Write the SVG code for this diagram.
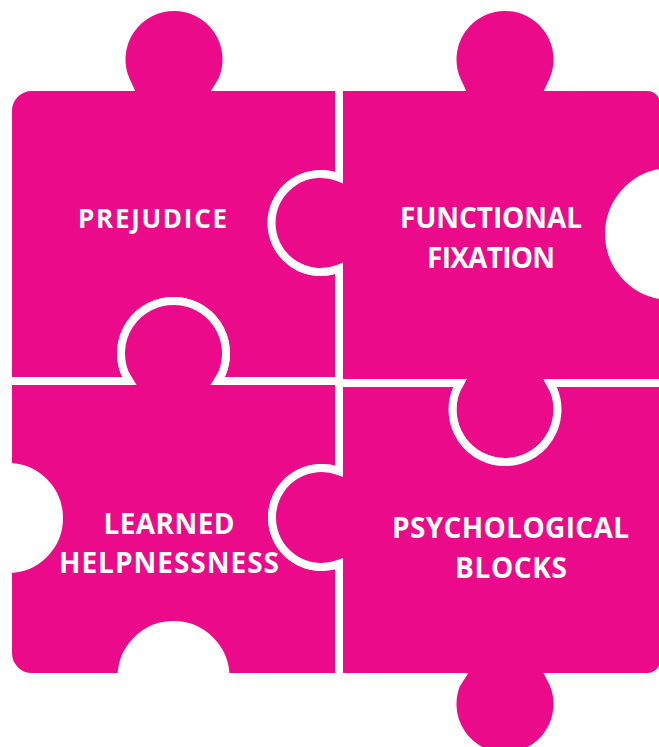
<svg xmlns="http://www.w3.org/2000/svg" width="659" height="747" viewBox="0 0 659 747">
  <style>
    .piece { fill: #EB0B8A; stroke: #FFFFFF; stroke-width: 8; stroke-linejoin: miter; }
    .label { fill: #FFFFFF; font-family: "Open Sans", "Liberation Sans", sans-serif; font-weight: 700; text-anchor: middle; }
  </style>
  <rect x="0" y="0" width="659" height="747" fill="#FFFFFF"/>

  <!-- Top-left piece -->
  <g id="prejudice">
    <path class="piece" d="M 8 111 A 24 24 0 0 1 32 87 L 129 87 L 125.5 79.5 A 52.5 52.5 0 1 1 222.5 79.5 L 218 87 L 339 87 L 339 177.6 A 49 49 0 1 0 339 268.4 L 339 381 L 217.5 381 L 222 373.5 A 52.5 52.5 0 1 0 125 373.5 L 129.5 381 L 8 381 Z"/>
    <text class="label" x="152.5" y="228" font-size="26" textLength="149" lengthAdjust="spacing">PREJUDICE</text>
  </g>

  <!-- Top-right piece -->
  <g id="functional-fixation">
    <path class="piece" d="M 339 87 L 460 87 L 456.5 79.5 A 52.5 52.5 0 1 1 553.5 79.5 L 550 87 L 647.5 87 A 16.5 16.5 0 0 1 664 103.5 L 664 172.4 A 62 62 0 0 0 664 295.6 L 664 383 L 550 383 L 553.5 389.5 A 52.5 52.5 0 1 1 456.5 389.5 L 460 383 L 339 383 L 339 268.4 A 49 49 0 1 1 339 177.6 Z"/>
    <text class="label" x="491" y="228" font-size="28" textLength="182" lengthAdjust="spacing">FUNCTIONAL</text>
    <text class="label" x="491" y="268" font-size="28" textLength="128" lengthAdjust="spacing">FIXATION</text>
  </g>

  <!-- Bottom-left piece -->
  <g id="learned-helplessness">
    <path class="piece" d="M 8 381 L 129.5 381 L 125 373.5 A 52.5 52.5 0 1 1 222 373.5 L 217.5 381 L 339 381 L 339 471.2 A 49.5 49.5 0 1 0 339 563.8 L 339 677 L 225.5 677 A 52 52 0 0 0 121.5 677 L 32 677 A 24 24 0 0 1 8 653 L 8 569 A 51 51 0 0 0 8 467 Z"/>
    <text class="label" x="169" y="534" font-size="28" textLength="131" lengthAdjust="spacing">LEARNED</text>
    <text class="label" x="169" y="573" font-size="28" textLength="220" lengthAdjust="spacing">HELPNESSNESS</text>
  </g>

  <!-- Bottom-right piece -->
  <g id="psychological-blocks">
    <path class="piece" d="M 339 383 L 460 383 L 456.5 389.5 A 52.5 52.5 0 1 0 553.5 389.5 L 550 383 L 664 383 L 664 660.5 A 16.5 16.5 0 0 1 647.5 677 L 550 677 L 553.5 684 A 52.5 52.5 0 1 1 456.5 684 L 461 677 L 339 677 L 339 563.8 A 49.5 49.5 0 1 1 339 471.2 Z"/>
    <text class="label" x="510.5" y="538" font-size="28" textLength="237" lengthAdjust="spacing">PSYCHOLOGICAL</text>
    <text class="label" x="511" y="578" font-size="28" textLength="112" lengthAdjust="spacing">BLOCKS</text>
  </g>

  <!-- No connectors in this figure -->
  <g id="connectors"/>
</svg>
